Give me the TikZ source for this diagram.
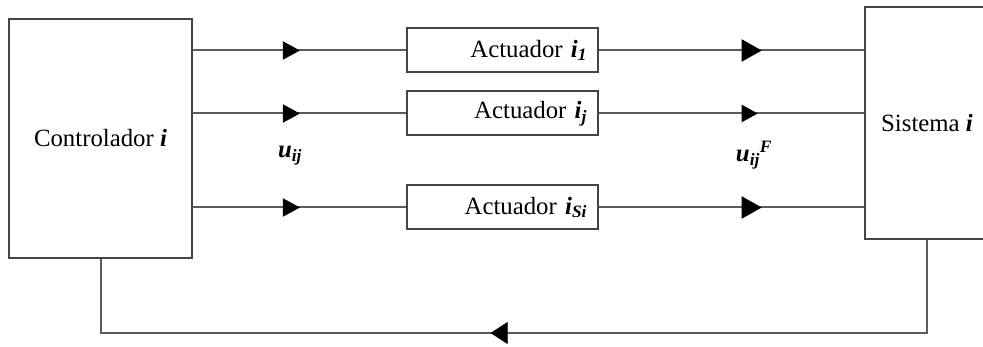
\documentclass[tikz,border=0pt]{standalone}
\usepackage{fontspec}
\setmainfont{Liberation Serif}
\usetikzlibrary{arrows.meta,decorations.markings}
\definecolor{linegray}{HTML}{5C5C5C}
\definecolor{boxgray}{HTML}{454545}
\newcommand{\bfit}[1]{\textbf{\textit{#1}}}
\begin{document}
\begin{tikzpicture}[x=1pt,y=-1pt,
  every node/.style={font=\fontsize{24.8}{29}\selectfont},
  block/.style={draw=boxgray, line width=2pt, inner sep=0pt},
  act/.style={block, minimum width=191pt, minimum height=44pt,
    text width=169pt, align=right, inner xsep=11pt},
  conn/.style={draw=linegray, line width=2pt},
  midarrow/.style n args={3}{postaction={decorate,decoration={markings,
    mark=at position #1 with {\arrow{Triangle[length=#2pt,width=#3pt,color=black,fill=black]}}}}}
]
\useasboundingbox (0,0) rectangle (983,347);

% blocks
\node[block, minimum width=183pt, minimum height=239pt] (ctrl) at (100.5,138.5) {Controlador \bfit{i}};
\node[block, minimum width=124pt, minimum height=232pt] (sys) at (927,123) {Sistema \bfit{i}};
\node[act] (a1) at (502.5,50.5) {Actuador \bfit{i}\textsubscript{\bfit{1}}};
\node[act] (a2) at (502.5,113.5) {Actuador \bfit{i}\textsubscript{\bfit{j}}};
\node[act] (a3) at (502.5,207.5) {Actuador \bfit{i}\textsubscript{\bfit{Si}}};

% signal labels
\node (uin) at (290,156) {\bfit{u}\textsubscript{\bfit{ij}}};
\node (uout) at (754,155) {\bfit{u}\textsubscript{\bfit{ij}}\textsuperscript{\bfit{F}}};

% controller to actuators
\draw[conn, midarrow={0.502}{17}{18}] (ctrl.east |- a1) -- (a1.west);
\draw[conn, midarrow={0.502}{17}{18}] (ctrl.east |- a2) -- (a2.west);
\draw[conn, midarrow={0.502}{17}{18}] (ctrl.east |- a3) -- (a3.west);

% actuators to system
\draw[conn, midarrow={0.614}{20}{22}] (a1.east) -- (sys.west |- a1);
\draw[conn, midarrow={0.599}{16}{17}] (a2.east) -- (sys.west |- a2);
\draw[conn, midarrow={0.614}{20}{22}] (a3.east) -- (sys.west |- a3);

% feedback path
\coordinate (fbR) at (927,333);
\coordinate (fbL) at (100.5,333);
\draw[conn] (sys.south) -- (fbR) -- (fbL) -- (ctrl.south);
\path[midarrow={0.528}{17}{22}] (fbR) -- (fbL);
\end{tikzpicture}
\end{document}
